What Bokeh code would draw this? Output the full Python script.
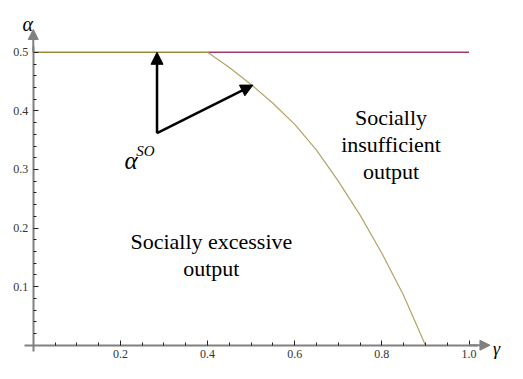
from bokeh.plotting import figure
from bokeh.models import Range1d, FixedTicker, Arrow, NormalHead, PrintfTickFormatter
from bokeh.embed import file_html
from bokeh.resources import INLINE
from bokeh.core.properties import value

# ---- data ----
gamma_curve = [0.40, 0.45, 0.50, 0.55, 0.60, 0.65, 0.70, 0.75, 0.80, 0.85, 0.90]
alpha_curve = [0.500, 0.474, 0.445, 0.413, 0.377, 0.333, 0.280, 0.222, 0.157, 0.085, 0.000]
gamma_left = [0.0, 0.4]
alpha_left = [0.5, 0.5]
gamma_right = [0.4, 1.0]
alpha_right = [0.5, 0.5]
x_ticks = [0.2, 0.4, 0.6, 0.8, 1.0]
x_minor = [0.05, 0.10, 0.15, 0.25, 0.30, 0.35, 0.45, 0.50, 0.55, 0.65, 0.70, 0.75, 0.85, 0.90, 0.95]
y_ticks = [0.1, 0.2, 0.3, 0.4, 0.5]
y_minor = [0.02, 0.04, 0.06, 0.08, 0.12, 0.14, 0.16, 0.18, 0.22, 0.24, 0.26, 0.28,
           0.32, 0.34, 0.36, 0.38, 0.42, 0.44, 0.46, 0.48]
arrow_base = (0.284, 0.362)
arrow_tip_up = (0.284, 0.5)
arrow_tip_curve = (0.504, 0.444)

SERIF = "Liberation Serif"
AXIS_GRAY = "#808080"

p = figure(width=507, height=363, output_backend="svg", toolbar_location=None,
           x_range=Range1d(-0.0752, 1.0883), y_range=Range1d(-0.0312, 0.5884),
           min_border=0, outline_line_color=None)
p.grid.visible = False
p.background_fill_color = "white"

for ax, ticks, minor, bounds in ((p.xaxis[0], x_ticks, x_minor, (-0.02, 1.02)),
                                 (p.yaxis[0], y_ticks, y_minor, (-0.01, 0.51))):
    ax.fixed_location = 0
    ax.ticker = FixedTicker(ticks=ticks, minor_ticks=minor)
    ax.formatter = PrintfTickFormatter(format="%.1f")
    ax.bounds = bounds
    ax.axis_line_color = AXIS_GRAY
    ax.axis_line_width = 2
    ax.major_tick_line_color = "#222222"
    ax.minor_tick_line_color = "#222222"
    ax.major_tick_in = 5
    ax.major_tick_out = 0
    ax.minor_tick_in = 3
    ax.minor_tick_out = 0
    ax.major_label_text_font = SERIF
    ax.major_label_text_font_size = "12px"
    ax.major_label_text_color = "#333333"
    ax.major_label_standoff = 5

# axis arrowheads
p.add_layout(Arrow(x_start=1.0, y_start=0, x_end=1.048, y_end=0, line_color=AXIS_GRAY, line_width=2,
                   end=NormalHead(size=10, fill_color=AXIS_GRAY, line_color=AXIS_GRAY)))
p.add_layout(Arrow(x_start=0, y_start=0.5, x_end=0, y_end=0.539, line_color=AXIS_GRAY, line_width=2,
                   end=NormalHead(size=10, fill_color=AXIS_GRAY, line_color=AXIS_GRAY)))

# lines
p.line(gamma_left, alpha_left, line_color="#9b8b38", line_width=1.5)
p.line(gamma_right, alpha_right, line_color="#a3376e", line_width=1.5)
p.line(gamma_curve, alpha_curve, line_color="#b2a468", line_width=1.2)

# black arrows
for tip in (arrow_tip_up, arrow_tip_curve):
    p.add_layout(Arrow(x_start=arrow_base[0], y_start=arrow_base[1], x_end=tip[0], y_end=tip[1],
                       line_color="black", line_width=2.5,
                       end=NormalHead(size=12, fill_color="black", line_color="black")))

# texts
p.text(x=[0.821, 0.821, 0.821], y=[0.3888, 0.3430, 0.2972],
       text=["Socially", "insufficient", "output"],
       text_font=value(SERIF), text_font_size="22px", text_align="center",
       text_baseline="alphabetic", text_color="black")
p.text(x=[0.4087, 0.4087], y=[0.1764, 0.1306],
       text=["Socially excessive", "output"],
       text_font=value(SERIF), text_font_size="22px", text_align="center",
       text_baseline="alphabetic", text_color="black")

# alpha^SO label
p.text(x=[0.2096], y=[0.3153], text=["α"], text_font=value(SERIF), text_font_size="25px",
       text_font_style="italic", text_align="left", text_baseline="alphabetic")
p.text(x=[0.2363], y=[0.3317], text=["SO"], text_font=value(SERIF), text_font_size="15px",
       text_font_style="italic", text_align="left", text_baseline="alphabetic")

# axis titles
p.text(x=[-0.0129], y=[0.5475], text=["α"], text_font=value(SERIF), text_font_size="20px",
       text_font_style="italic", text_align="center", text_baseline="alphabetic")
p.text(x=[1.063], y=[-0.007], text=["γ"], text_font=value(SERIF), text_font_size="18px",
       text_font_style="italic", text_align="center", text_baseline="alphabetic")

open("out.html", "w").write(file_html(p, INLINE))
